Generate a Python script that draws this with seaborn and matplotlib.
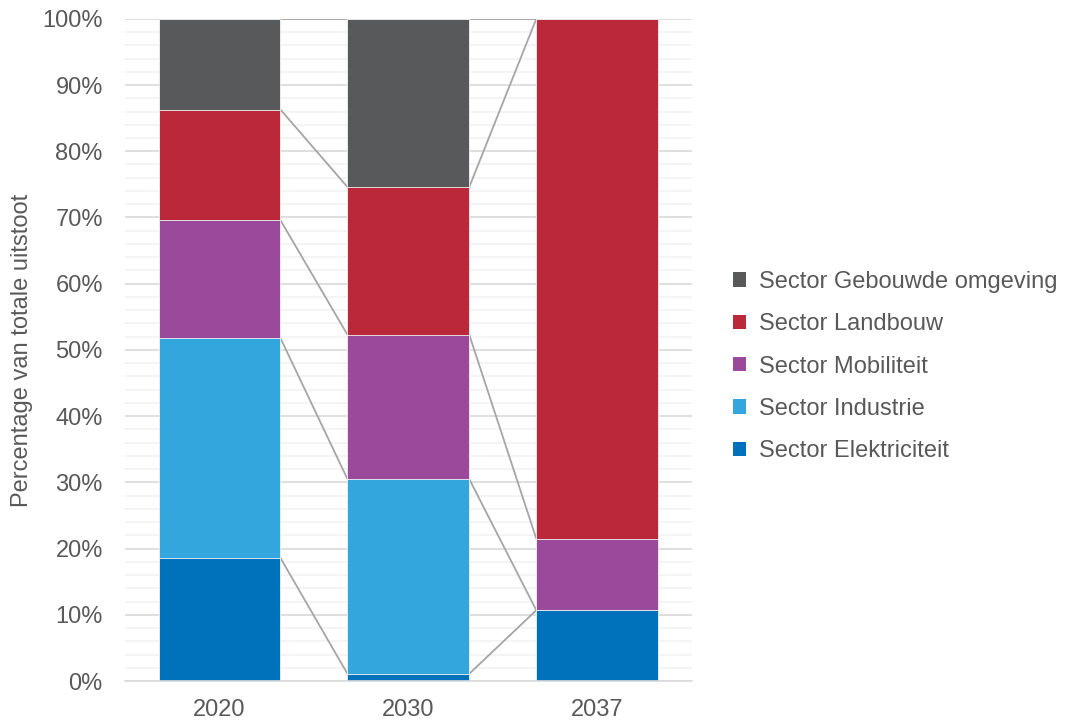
import numpy as np
import pandas as pd
import matplotlib
matplotlib.use("Agg")
import matplotlib.pyplot as plt
from matplotlib.patches import Patch
from matplotlib.ticker import MultipleLocator, PercentFormatter
import seaborn as sns

# Share of total emissions per sector (percent)
years = ["2020", "2030", "2037"]
sectors = ["Sector Elektriciteit", "Sector Industrie", "Sector Mobiliteit",
           "Sector Landbouw", "Sector Gebouwde omgeving"]
elektriciteit = [18.6, 1.1, 10.7]
industrie = [33.2, 29.4, 0.0]
mobiliteit = [17.8, 21.8, 10.8]
landbouw = [16.7, 22.3, 78.5]
gebouwde_omgeving = [13.7, 25.4, 0.0]
colors = ["#0072BC", "#33A7DD", "#9B4A9B", "#BA283A", "#58595B"]

sns.set_theme(style="white")
plt.rcParams["font.family"] = ["Liberation Sans", "DejaVu Sans"]
text_color = "#595959"

values = np.array([elektriciteit, industrie, mobiliteit, landbouw, gebouwde_omgeving])
cum = np.cumsum(values, axis=0)

df = pd.DataFrame({"jaar": np.tile(years, len(sectors)),
                   "sector": np.repeat(sectors, len(years)),
                   "top": cum.ravel()})

fig = plt.figure(figsize=(10.69, 7.23), dpi=100)
ax = fig.add_axes([0.117, 0.058, 0.530, 0.916])

bar_width = 0.645
# Stacked bars: draw cumulative totals from the top series down
for i in range(len(sectors) - 1, -1, -1):
    sub = df[df["sector"] == sectors[i]]
    sns.barplot(data=sub, x="jaar", y="top", order=years, color=colors[i],
                saturation=1, width=bar_width, edgecolor="#f4f4f4",
                linewidth=0.6, errorbar=None, ax=ax, zorder=2)

# Series lines joining segment boundaries between neighbouring bars
half = bar_width / 2
for i in range(len(sectors)):
    for j in range(len(years) - 1):
        ax.plot([j + half, j + 1 - half], [cum[i, j], cum[i, j + 1]],
                color="#A5A5A5", lw=1.3, zorder=1.5, solid_capstyle="butt")

ax.set_xlim(-0.5, 2.5)
ax.set_ylim(0, 100)
ax.yaxis.set_major_locator(MultipleLocator(10))
ax.yaxis.set_minor_locator(MultipleLocator(2))
ax.yaxis.set_major_formatter(PercentFormatter(decimals=0))
ax.grid(which="major", axis="y", color="#D9D9D9", lw=1.2, zorder=0)
ax.grid(which="minor", axis="y", color="#F2F2F2", lw=1.2, zorder=0)
ax.set_axisbelow(True)
for s in ["top", "right", "left"]:
    ax.spines[s].set_visible(False)
ax.spines["bottom"].set_color("#D9D9D9")
ax.spines["bottom"].set_linewidth(1.2)
ax.tick_params(axis="both", which="both", length=0, labelsize=17,
               colors=text_color)
ax.tick_params(axis="x", pad=13)
ax.tick_params(axis="y", pad=16)
ax.set_xlabel("")
ax.set_ylabel("Percentage van totale uitstoot", fontsize=17, color=text_color,
              labelpad=7)

handles = [Patch(facecolor=colors[i], edgecolor="none", label=sectors[i])
           for i in range(len(sectors) - 1, -1, -1)]
fig.legend(handles=handles, loc="center left", bbox_to_anchor=(0.666, 0.493),
           frameon=False, fontsize=17, labelcolor=text_color,
           handlelength=0.55, handleheight=0.55, handletextpad=0.55,
           labelspacing=0.86)

fig.savefig("out.png", dpi=100, facecolor="white")
